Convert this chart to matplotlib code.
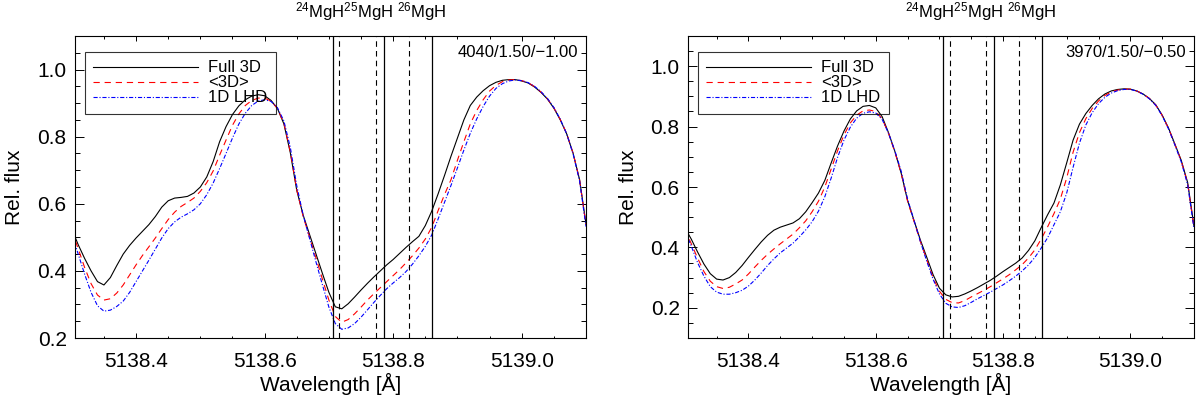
import matplotlib
matplotlib.use("Agg")
import matplotlib.pyplot as plt
from matplotlib.ticker import MultipleLocator, FormatStrFormatter
from matplotlib.transforms import blended_transform_factory

plt.rcParams['font.family'] = ['Liberation Sans', 'DejaVu Sans']
plt.rcParams['mathtext.fontset'] = 'custom'
plt.rcParams['mathtext.rm'] = 'Liberation Sans'
plt.rcParams['mathtext.it'] = 'Liberation Sans:italic'
plt.rcParams['mathtext.bf'] = 'Liberation Sans:bold'
plt.rcParams['lines.scale_dashes'] = False

# ---------------- data ----------------
wavelength = [5138.30, 5138.31, 5138.32, 5138.33, 5138.34, 5138.35, 5138.36, 5138.37, 5138.38, 5138.39,
              5138.40, 5138.41, 5138.42, 5138.43, 5138.44, 5138.45, 5138.46, 5138.47, 5138.48, 5138.49,
              5138.50, 5138.51, 5138.52, 5138.53, 5138.54, 5138.55, 5138.56, 5138.57, 5138.58, 5138.59,
              5138.60, 5138.61, 5138.62, 5138.63, 5138.64, 5138.65, 5138.66, 5138.67, 5138.68, 5138.69,
              5138.70, 5138.71, 5138.72, 5138.73, 5138.74, 5138.75, 5138.76, 5138.77, 5138.78, 5138.79,
              5138.80, 5138.81, 5138.82, 5138.83, 5138.84, 5138.85, 5138.86, 5138.87, 5138.88, 5138.89,
              5138.90, 5138.91, 5138.92, 5138.93, 5138.94, 5138.95, 5138.96, 5138.97, 5138.98, 5138.99,
              5139.00, 5139.01, 5139.02, 5139.03, 5139.04, 5139.05, 5139.06, 5139.07, 5139.08, 5139.09,
              5139.10]

# Left panel: 4040/1.50/-1.00
left_full3d = [0.525, 0.478, 0.437, 0.400, 0.368, 0.358, 0.380, 0.416, 0.450, 0.476,
               0.498, 0.518, 0.538, 0.562, 0.590, 0.609, 0.617, 0.619, 0.622, 0.632,
               0.650, 0.680, 0.726, 0.785, 0.830, 0.866, 0.892, 0.910, 0.921, 0.925,
               0.922, 0.908, 0.884, 0.838, 0.752, 0.640, 0.566, 0.508, 0.450, 0.392,
               0.336, 0.293, 0.287, 0.302, 0.322, 0.343, 0.363, 0.382, 0.400, 0.418,
               0.434, 0.452, 0.470, 0.487, 0.503, 0.535, 0.578, 0.630, 0.685, 0.742,
               0.796, 0.850, 0.893, 0.918, 0.937, 0.952, 0.962, 0.968, 0.970, 0.970,
               0.966, 0.960, 0.948, 0.932, 0.912, 0.885, 0.850, 0.808, 0.750, 0.672,
               0.540]
left_mean3d = [0.520, 0.466, 0.410, 0.362, 0.328, 0.313, 0.317, 0.334, 0.358, 0.388,
               0.418, 0.446, 0.472, 0.498, 0.526, 0.553, 0.575, 0.592, 0.604, 0.617,
               0.637, 0.663, 0.698, 0.745, 0.790, 0.834, 0.868, 0.893, 0.908, 0.915,
               0.915, 0.906, 0.884, 0.840, 0.755, 0.642, 0.562, 0.500, 0.438, 0.375,
               0.313, 0.264, 0.247, 0.255, 0.272, 0.292, 0.313, 0.332, 0.350, 0.368,
               0.386, 0.404, 0.424, 0.445, 0.468, 0.495, 0.530, 0.580, 0.628, 0.672,
               0.730, 0.785, 0.838, 0.878, 0.910, 0.936, 0.953, 0.964, 0.969, 0.970,
               0.967, 0.961, 0.949, 0.933, 0.913, 0.886, 0.851, 0.809, 0.750, 0.671,
               0.537]
left_1dlhd = [0.510, 0.450, 0.390, 0.336, 0.296, 0.280, 0.283, 0.294, 0.310, 0.336,
              0.368, 0.400, 0.432, 0.465, 0.498, 0.526, 0.546, 0.560, 0.570, 0.582,
              0.600, 0.627, 0.662, 0.705, 0.750, 0.796, 0.838, 0.870, 0.893, 0.906,
              0.910, 0.905, 0.886, 0.847, 0.768, 0.654, 0.566, 0.496, 0.426, 0.358,
              0.292, 0.243, 0.226, 0.230, 0.243, 0.262, 0.284, 0.306, 0.327, 0.347,
              0.364, 0.380, 0.398, 0.420, 0.445, 0.473, 0.507, 0.555, 0.605, 0.655,
              0.707, 0.760, 0.810, 0.853, 0.890, 0.921, 0.944, 0.958, 0.966, 0.969,
              0.967, 0.961, 0.950, 0.934, 0.914, 0.887, 0.852, 0.808, 0.748, 0.668,
              0.532]

# Right panel: 3970/1.50/-0.50
right_full3d = [0.465, 0.428, 0.385, 0.345, 0.313, 0.295, 0.292, 0.300, 0.317, 0.340,
                0.367, 0.393, 0.418, 0.440, 0.457, 0.467, 0.474, 0.481, 0.495, 0.518,
                0.548, 0.580, 0.622, 0.680, 0.736, 0.785, 0.825, 0.852, 0.867, 0.870,
                0.862, 0.833, 0.780, 0.718, 0.645, 0.555, 0.490, 0.425, 0.368, 0.310,
                0.265, 0.243, 0.236, 0.238, 0.246, 0.256, 0.267, 0.279, 0.291, 0.305,
                0.320, 0.334, 0.348, 0.365, 0.390, 0.422, 0.466, 0.508, 0.547, 0.607,
                0.680, 0.755, 0.808, 0.843, 0.870, 0.892, 0.908, 0.918, 0.923, 0.925,
                0.924, 0.918, 0.908, 0.893, 0.872, 0.838, 0.795, 0.742, 0.688, 0.615,
                0.470]
right_mean3d = [0.460, 0.413, 0.365, 0.320, 0.288, 0.270, 0.264, 0.268, 0.279, 0.292,
                0.312, 0.335, 0.357, 0.377, 0.395, 0.412, 0.428, 0.444, 0.465, 0.488,
                0.518, 0.553, 0.600, 0.660, 0.720, 0.772, 0.812, 0.838, 0.852, 0.855,
                0.850, 0.826, 0.778, 0.716, 0.645, 0.553, 0.487, 0.420, 0.360, 0.300,
                0.255, 0.228, 0.217, 0.216, 0.224, 0.236, 0.247, 0.258, 0.270, 0.283,
                0.296, 0.310, 0.326, 0.343, 0.365, 0.392, 0.428, 0.468, 0.512, 0.560,
                0.630, 0.715, 0.780, 0.826, 0.860, 0.885, 0.903, 0.915, 0.921, 0.924,
                0.924, 0.918, 0.908, 0.893, 0.871, 0.837, 0.794, 0.741, 0.686, 0.612,
                0.466]
right_1dlhd = [0.455, 0.405, 0.350, 0.305, 0.270, 0.252, 0.245, 0.245, 0.250, 0.258,
               0.272, 0.292, 0.315, 0.340, 0.362, 0.382, 0.398, 0.414, 0.435, 0.458,
               0.485, 0.520, 0.568, 0.630, 0.698, 0.755, 0.798, 0.828, 0.844, 0.849,
               0.845, 0.824, 0.778, 0.720, 0.652, 0.560, 0.490, 0.420, 0.355, 0.295,
               0.246, 0.215, 0.203, 0.201, 0.207, 0.218, 0.230, 0.241, 0.252, 0.264,
               0.276, 0.290, 0.305, 0.322, 0.342, 0.367, 0.398, 0.432, 0.475, 0.518,
               0.580, 0.665, 0.745, 0.805, 0.846, 0.876, 0.897, 0.911, 0.919, 0.923,
               0.923, 0.918, 0.907, 0.892, 0.870, 0.836, 0.792, 0.739, 0.683, 0.608,
               0.462]

series_labels = ['Full 3D', '<3D>', '1D LHD']
model_labels = ['4040/1.50/\u22121.00', '3970/1.50/\u22120.50']
isotope_label = r'$^{24}$MgH$^{25}$MgH $^{26}$MgH'
isotope_solid = [5138.706, 5138.786, 5138.861]
isotope_dashed = [5138.716, 5138.773, 5138.825]
x_ticks = [5138.4, 5138.6, 5138.8, 5139.0]
y_ticks = [0.2, 0.4, 0.6, 0.8, 1.0]

# ---------------- figure ----------------
fig = plt.figure(figsize=(12, 3.98), dpi=100)
W, H = 1200, 398
ax1 = fig.add_axes([75 / W, 60 / H, 511 / W, 302 / H])
ax2 = fig.add_axes([688 / W, 60 / H, 506 / W, 302 / H])

panels = [
    (ax1, [left_full3d, left_mean3d, left_1dlhd], (0.2, 1.1), model_labels[0]),
    (ax2, [right_full3d, right_mean3d, right_1dlhd], (0.1, 1.1), model_labels[1]),
]

styles = [
    dict(color='black', linestyle='-', linewidth=0.8),
    dict(color='#ff0000', linestyle=(0, (4.5, 3.5)), linewidth=0.8),
    dict(color='#0000ff', linestyle=(0, (3.0, 1.3, 0.8, 1.3)), linewidth=0.8),
]

for ax, fluxes, ylim, mlabel in panels:
    for flux, lab, st in zip(fluxes, series_labels, styles):
        ax.plot(wavelength, flux, label=lab, **st)
    for xv in isotope_solid:
        ax.axvline(xv, color='black', linewidth=0.9)
    for xv in isotope_dashed:
        ax.axvline(xv, color='black', linewidth=0.8, linestyle=(0, (4, 3)))

    ax.set_xlim(5138.305, 5139.10)
    ax.set_ylim(*ylim)
    ax.set_xticks(x_ticks)
    ax.set_yticks(y_ticks)
    ax.xaxis.set_minor_locator(MultipleLocator(0.05))
    ax.yaxis.set_minor_locator(MultipleLocator(0.05))
    ax.xaxis.set_major_formatter(FormatStrFormatter('%.1f'))
    ax.yaxis.set_major_formatter(FormatStrFormatter('%.1f'))
    ax.tick_params(axis='both', which='both', direction='in', top=True, right=True,
                   width=0.7, color='black', labelsize=15)
    ax.tick_params(axis='x', which='major', length=3.6, pad=10)
    ax.tick_params(axis='x', which='minor', length=1.8)
    ax.tick_params(axis='y', which='major', length=6.5, pad=6)
    ax.tick_params(axis='y', which='minor', length=3.4)
    for sp in ax.spines.values():
        sp.set_linewidth(0.8)
        sp.set_color('black')

    ax.set_xlabel('Wavelength [\u00c5]', fontsize=15)
    ax.xaxis.set_label_coords(0.5, -0.115)
    ax.xaxis.label.set_va('top')
    ax.set_ylabel('Rel. flux', fontsize=15)
    ax.yaxis.set_label_coords(-0.099, 0.5)

    leg = ax.legend(loc='upper left', bbox_to_anchor=(0.0196, 0.947), borderaxespad=0,
                    fontsize=12, handlelength=6.3, handletextpad=0.6, labelspacing=0.0,
                    borderpad=0.5, frameon=True, fancybox=False)
    leg.get_frame().set_edgecolor('black')
    leg.get_frame().set_facecolor('none')
    leg.get_frame().set_linewidth(0.8)

    ax.text(0.984, 0.944, mlabel, transform=ax.transAxes, ha='right', va='center',
            fontsize=12)

    trans = blended_transform_factory(ax.transData, ax.transAxes)
    ax.text(5138.765, 1.081, isotope_label, transform=trans, ha='center', va='center',
            fontsize=12, clip_on=False)

fig.savefig('out.png', dpi=100)
